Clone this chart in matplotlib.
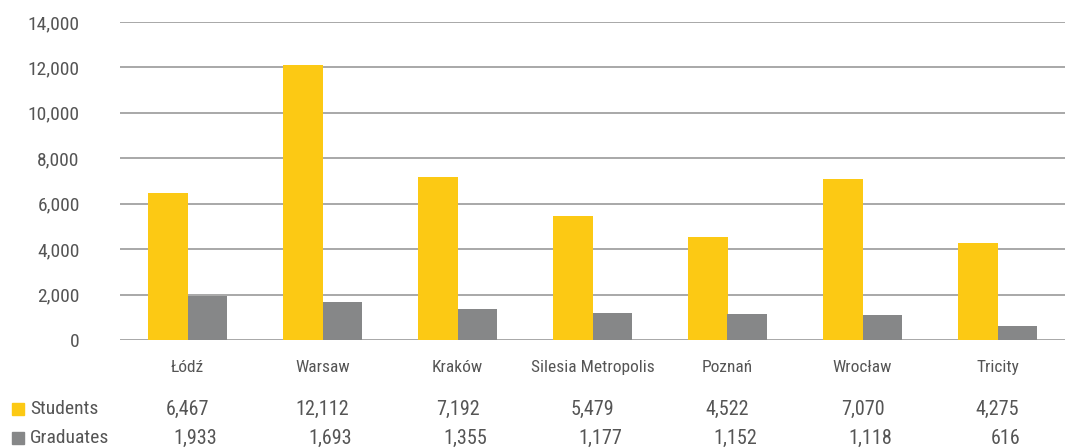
"""Students and graduates by city, bar chart with data table underneath"""

import numpy as np
import matplotlib.pyplot as plt
from matplotlib import font_manager
from matplotlib.transforms import blended_transform_factory

cities = ["Łódź", "Warsaw", "Kraków", "Silesia Metropolis", "Poznań", "Wrocław", "Tricity"]
students = [6467, 12112, 7192, 5479, 4522, 7070, 4275]
graduates = [1933, 1693, 1355, 1177, 1152, 1118, 616]
series_names = ["Students", "Graduates"]

YELLOW = "#FCC914"
GREY = "#868788"
TEXT = "#555555"

# look for a condensed face, the reference uses a narrow DIN-like font
cond = [f for f in font_manager.fontManager.ttflist
        if ("condensed" in str(f.stretch).lower() or "Condensed" in f.fname or "Narrow" in f.fname)
        and f.style == "normal" and f.weight in (400, "normal", "regular")]
cond.sort(key=lambda f: (0 if "Roboto" in f.fname else 1 if "Liberation" in f.fname else 2))
if cond:
    plt.rcParams["font.family"] = [cond[0].name, "DejaVu Sans"]
    plt.rcParams["font.stretch"] = cond[0].stretch
else:
    plt.rcParams["font.family"] = ["DejaVu Sans"]
    plt.rcParams["font.stretch"] = "condensed"

fig = plt.figure(figsize=(10.65, 4.48), dpi=100)
ax = fig.add_axes([120 / 1065, 1 - 340 / 448, 945 / 1065, 318 / 448])

x = np.arange(len(cities))
w = 0.29
ax.bar(x - w / 2, students, w, color=YELLOW, zorder=3)
ax.bar(x + w / 2, graduates, w, color=GREY, zorder=3)

ax.set_xlim(-0.5, len(cities) - 0.5)
ax.set_ylim(0, 14000)
ax.set_yticks(np.arange(0, 14001, 2000))
ax.set_yticklabels([f"{v:,}" for v in range(0, 14001, 2000)])
ax.yaxis.grid(True, color="#9a9a9a", linewidth=1.2, zorder=0)
ax.tick_params(axis="y", length=0, pad=29, labelsize=14, labelcolor=TEXT)
ax.set_xticks([])
for s in ax.spines.values():
    s.set_visible(False)

# data table below the axis
tr = blended_transform_factory(ax.transData, fig.transFigure)
for i, c in enumerate(cities):
    fig.text(i, 1 - 367 / 448, c, transform=tr, ha="center", va="center",
             fontsize=12.5, color=TEXT)
    fig.text(i, 1 - 409 / 448, f"{students[i]:,}", transform=tr, ha="center",
             va="center", fontsize=14.5, color=TEXT)
    fig.text(i + 0.06, 1 - 438 / 448, f"{graduates[i]:,}", transform=tr, ha="center",
             va="center", fontsize=14.5, color=TEXT)

for row_y, name, col in [(409, series_names[0], YELLOW), (438, series_names[1], GREY)]:
    fig.patches.append(plt.Rectangle((12 / 1065, 1 - (row_y + 6) / 448), 12 / 1065, 12 / 448,
                                     transform=fig.transFigure, color=col))
    fig.text(30 / 1065, 1 - row_y / 448, name, ha="left", va="center",
             fontsize=14, color=TEXT)

fig.savefig("out.png", dpi=100)
